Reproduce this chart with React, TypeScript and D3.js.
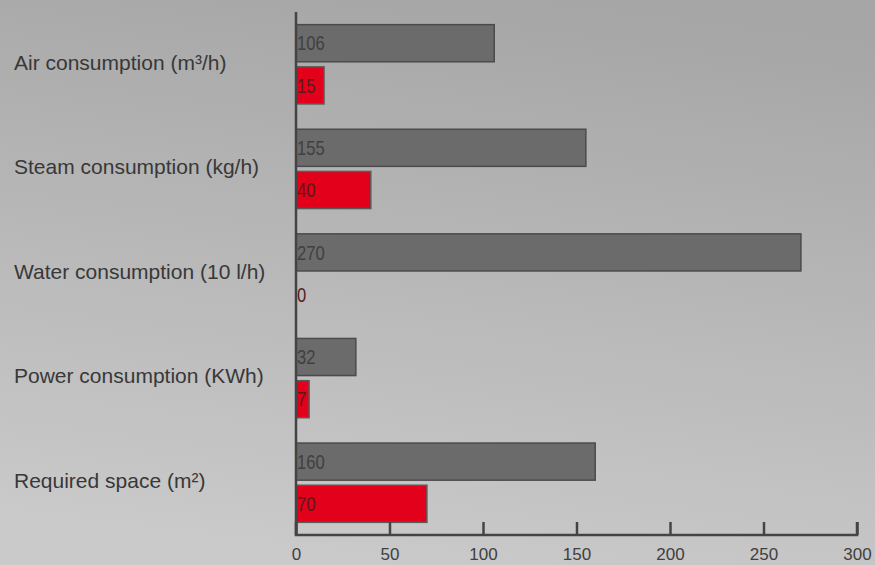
import { useEffect, useRef } from "react";
import * as d3 from "d3";

const categories = [
  "Air consumption (m³/h)",
  "Steam consumption (kg/h)",
  "Water consumption (10 l/h)",
  "Power consumption (KWh)",
  "Required space (m²)",
];
const seriesNames = ["gray", "red"];
const grayValues = [106, 155, 270, 32, 160];
const redValues = [15, 40, 0, 7, 70];
const xTicks = [0, 50, 100, 150, 200, 250, 300];

const W = 875;
const H = 565;

function App() {
  const svgRef = useRef<SVGSVGElement | null>(null);

  useEffect(() => {
    document.body.style.margin = "0";
    const svg: any = d3.select(svgRef.current);
    svg.selectAll("*").remove();

    const defs = svg.append("defs");
    const grad = defs
      .append("linearGradient")
      .attr("id", "bg")
      .attr("x1", "0.6")
      .attr("y1", "0")
      .attr("x2", "0.4")
      .attr("y2", "1");
    grad.append("stop").attr("offset", "0%").attr("stop-color", "#a6a6a6");
    grad.append("stop").attr("offset", "100%").attr("stop-color", "#cacaca");

    svg.append("rect").attr("width", W).attr("height", H).attr("fill", "url(#bg)");

    const x = d3.scaleLinear().domain([0, 300]).range([296, 857]);
    const y0 = d3.scaleBand().domain(categories).range([12, 535]);
    const y1 = d3
      .scaleBand()
      .domain(seriesNames)
      .range([0, y0.bandwidth()])
      .paddingInner(0.12)
      .paddingOuter(0.3);

    const colors: any = { gray: "#6b6b6b", red: "#e2001a" };
    const strokes: any = { gray: "#4b4b4b", red: "#5a5a5a" };

    // category labels
    svg
      .append("g")
      .selectAll("text")
      .data(categories)
      .enter()
      .append("text")
      .attr("x", 14)
      .attr("y", (d: string) => (y0(d) as number) + y0.bandwidth() / 2 - 2)
      .attr("dy", "0.35em")
      .style("font-family", "'Liberation Sans', Arial, sans-serif")
      .style("font-size", "21px")
      .style("fill", "#383838")
      .text((d: string) => d);

    const rows = categories.map((c, i) => ({
      cat: c,
      vals: [
        { key: "gray", value: grayValues[i] },
        { key: "red", value: redValues[i] },
      ],
    }));

    const group = svg
      .append("g")
      .selectAll("g")
      .data(rows)
      .enter()
      .append("g")
      .attr("transform", (d: any) => `translate(0, ${y0(d.cat)})`);

    const bar = group
      .selectAll("g")
      .data((d: any) => d.vals)
      .enter()
      .append("g");

    bar
      .filter((d: any) => d.value > 0)
      .append("rect")
      .attr("x", x(0))
      .attr("y", (d: any) => y1(d.key))
      .attr("width", (d: any) => x(d.value) - x(0))
      .attr("height", y1.bandwidth())
      .style("fill", (d: any) => colors[d.key])
      .style("stroke", (d: any) => strokes[d.key])
      .style("stroke-width", 1.5);

    // value labels, a bit condensed
    bar
      .append("text")
      .attr(
        "transform",
        (d: any) =>
          `translate(${x(0) + 1}, ${(y1(d.key) as number) + y1.bandwidth() / 2}) scale(0.83, 1)`
      )
      .attr("dy", "0.36em")
      .style("font-family", "'Liberation Sans', Arial, sans-serif")
      .style("font-size", "20px")
      .style("fill", (d: any) => (d.key === "red" ? "#5a1a1a" : "#404040"))
      .text((d: any) => d.value);

    // x axis
    const axis = svg
      .append("g")
      .attr("transform", "translate(0, 535)")
      .call(d3.axisBottom(x).tickValues(xTicks).tickSize(-13).tickPadding(13));
    axis
      .select(".domain")
      .attr("stroke", "#444444")
      .attr("stroke-width", 2.5)
      .attr("d", `M${x(0)},-13V0H${x(300)}V-13`);
    axis.selectAll(".tick line").attr("stroke", "#444444").attr("stroke-width", 2.5);
    axis
      .selectAll(".tick text")
      .style("font-family", "'Liberation Sans', Arial, sans-serif")
      .style("font-size", "17px")
      .style("fill", "#404040");

    // y axis line
    svg
      .append("line")
      .attr("x1", x(0))
      .attr("x2", x(0))
      .attr("y1", 12)
      .attr("y2", 535)
      .attr("stroke", "#444444")
      .attr("stroke-width", 2.5);
  }, []);

  return (
    <svg
      ref={svgRef}
      width={W}
      height={H}
      style={{ display: "block", position: "absolute", left: 0, top: 0 }}
    ></svg>
  );
}

export default App;
